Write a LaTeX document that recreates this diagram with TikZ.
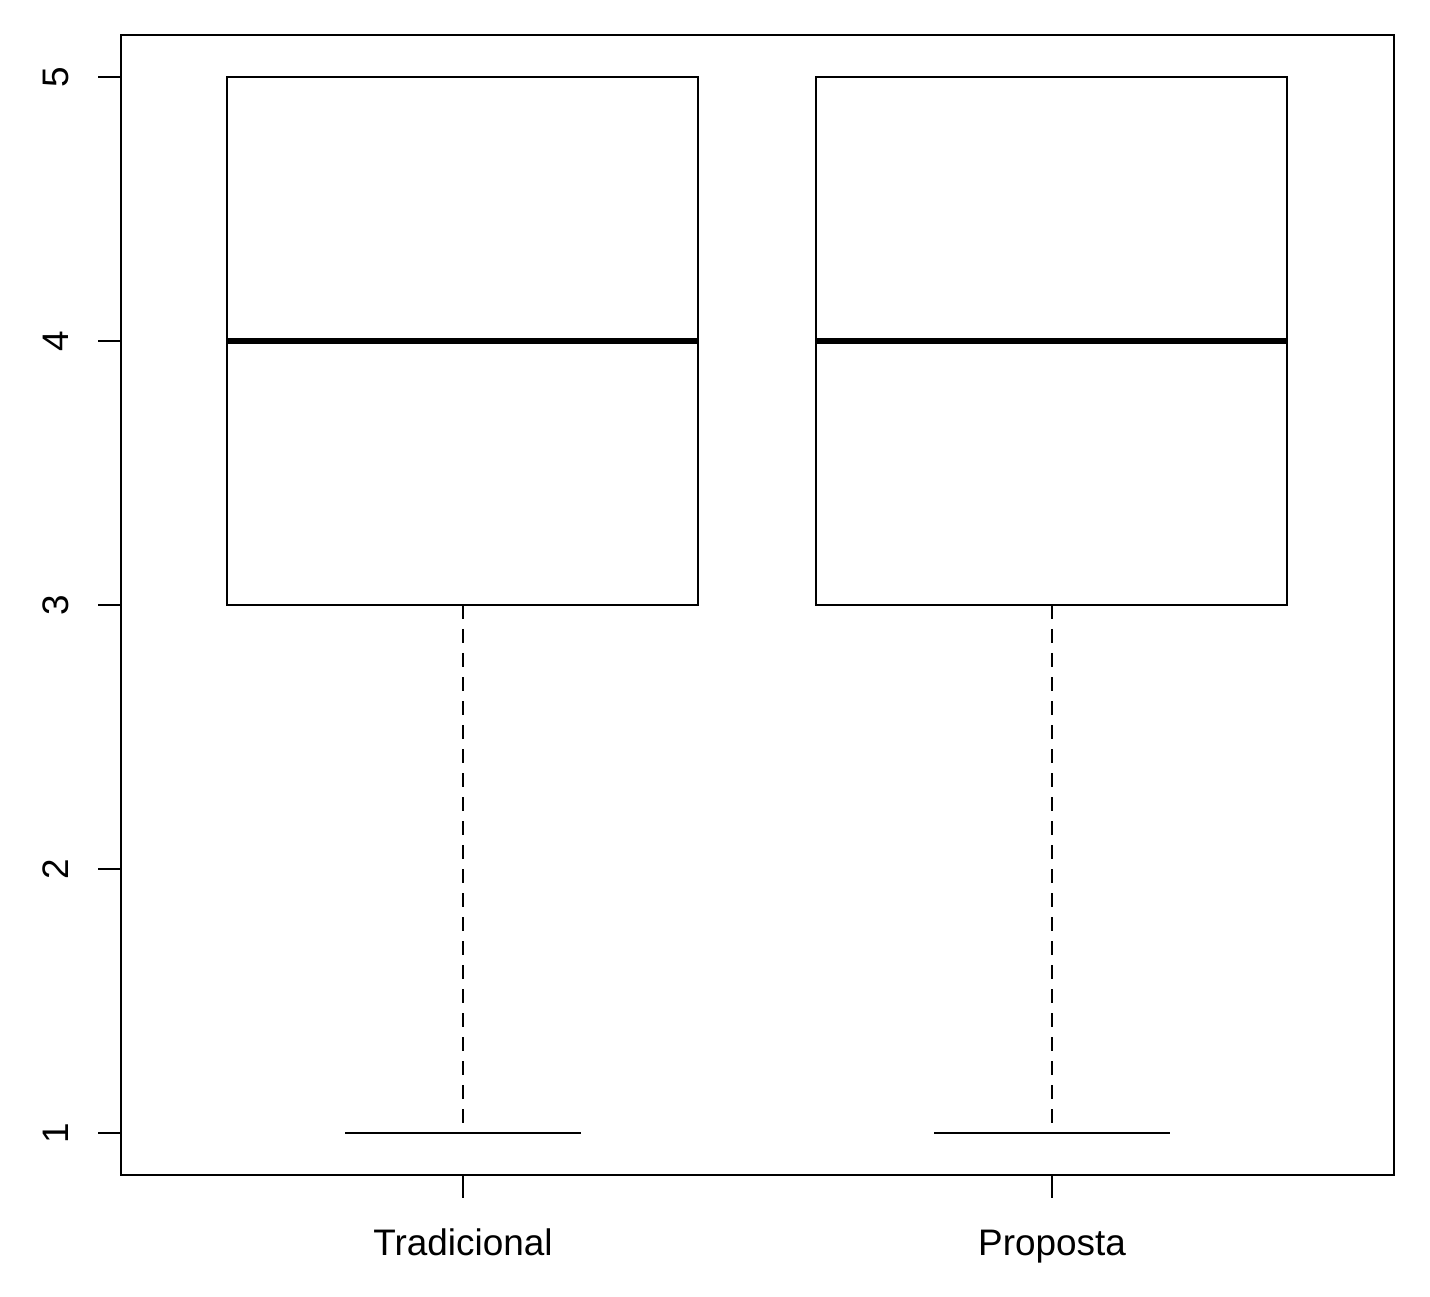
\documentclass[tikz,border=0pt]{standalone}
\usepackage{fontspec}
\setmainfont{Liberation Sans}
\tikzset{>=latex}
\tikzset{whisk/.style={dash pattern=on .14cm off .1cm}}
\tikzset{med/.style={line width=.067cm}}
\tikzset{lbl/.style={font=\fontsize{10.5}{12}\selectfont, inner sep=0, anchor=base}}

\begin{document}
\begin{tikzpicture}[line width=.024cm]
    \useasboundingbox(0, 0) rectangle(14.3, 12.96);
    \draw(1.21, 1.21) rectangle(13.94, 12.61);				%frame
    \draw(2.27, 6.91) rectangle(6.98, 12.19);				%Tradicional
    \draw[med](2.27, 9.55)--(6.98, 9.55);
    \draw[whisk](4.63, 6.91)--(4.63, 1.63);
    \draw(3.45, 1.63)--(5.81, 1.63);
    \draw(3.45, 12.19)--(5.81, 12.19);
    \draw(8.16, 6.91) rectangle(12.87, 12.19);				%Proposta
    \draw[med](8.16, 9.55)--(12.87, 9.55);
    \draw[whisk](10.52, 6.91)--(10.52, 1.63);
    \draw(9.34, 1.63)--(11.70, 1.63);
    \draw(9.34, 12.19)--(11.70, 12.19);
    \draw(4.63, 1.21)--(4.63, .98);						%x axis
    \draw(10.52, 1.21)--(10.52, .98);
    \node[lbl](trad) at(4.63, .403){Tradicional};
    \node[lbl](prop) at(10.52, .403){Proposta};
    \draw(1.21, 1.63)--(.98, 1.63);						%y axis
    \draw(1.21, 4.27)--(.98, 4.27);
    \draw(1.21, 6.91)--(.98, 6.91);
    \draw(1.21, 9.55)--(.98, 9.55);
    \draw(1.21, 12.19)--(.98, 12.19);
    \node[lbl, rotate=90](y1) at(.683, 1.63){1};
    \node[lbl, rotate=90](y2) at(.683, 4.27){2};
    \node[lbl, rotate=90](y3) at(.683, 6.91){3};
    \node[lbl, rotate=90](y4) at(.683, 9.55){4};
    \node[lbl, rotate=90](y5) at(.683, 12.19){5};
\end{tikzpicture}
\end{document}
